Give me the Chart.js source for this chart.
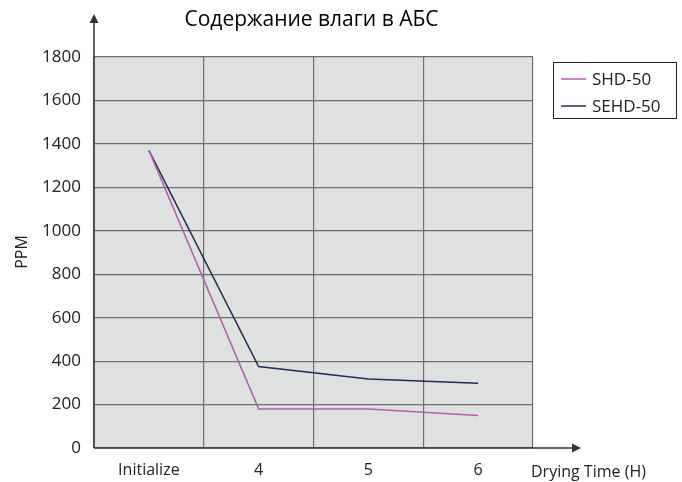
<!DOCTYPE html>
<html>
<head>
<meta charset="utf-8">
<script src="https://cdn.jsdelivr.net/npm/chart.js@4"></script>
<style>
  html, body { margin: 0; padding: 0; background: #fff; }
  #wrap { width: 682px; height: 482px; }
</style>
</head>
<body>
<div id="wrap"><canvas id="moisture"></canvas></div>
<script>
// chart data
const categories = ['Initialize', '4', '5', '6'];
const shdValues = [1370, 180, 180, 150];
const sehdValues = [1370, 375, 318, 298];
const yTicks = [0, 200, 400, 600, 800, 1000, 1200, 1400, 1600, 1800];
const titleText = 'Содержание влаги в АБС';
const xTitle = 'Drying Time (H)';
const yTitle = 'PPM';

const FONT = '"Open Sans", "DejaVu Sans", sans-serif';
const AXIS = '#333333';

// arrows, title, axis names and the boxed legend
const decor = {
  id: 'decor',
  afterDraw(chart) {
    const c = chart.ctx;
    const a = chart.chartArea;
    c.save();
    c.strokeStyle = AXIS;
    c.fillStyle = AXIS;
    c.lineWidth = 1.5;
    // y axis with arrow
    c.beginPath();
    c.moveTo(a.left, a.bottom);
    c.lineTo(a.left, 20);
    c.stroke();
    c.beginPath();
    c.moveTo(a.left, 14);
    c.lineTo(a.left - 4.5, 23);
    c.lineTo(a.left + 4.5, 23);
    c.closePath();
    c.fill();
    // x axis with arrow
    c.beginPath();
    c.moveTo(a.left, a.bottom);
    c.lineTo(575, a.bottom);
    c.stroke();
    c.beginPath();
    c.moveTo(581, a.bottom);
    c.lineTo(572, a.bottom - 4.5);
    c.lineTo(572, a.bottom + 4.5);
    c.closePath();
    c.fill();

    // title
    c.fillStyle = '#000';
    c.font = '21px ' + FONT;
    c.textAlign = 'center';
    c.textBaseline = 'middle';
    c.fillText(titleText, (a.left + a.right) / 2 - 2, 20);

    // axis names
    c.font = '16px ' + FONT;
    c.fillStyle = '#222';
    c.textAlign = 'left';
    c.fillText(xTitle, 531, 472);
    c.save();
    c.translate(22, 252);
    c.rotate(-Math.PI / 2);
    c.textAlign = 'center';
    c.fillText(yTitle, 0, 0);
    c.restore();

    // legend
    c.fillStyle = '#fff';
    c.fillRect(553, 62, 124, 57);
    c.strokeStyle = '#222';
    c.lineWidth = 1;
    c.strokeRect(553.5, 62.5, 123, 56);
    chart.data.datasets.forEach((ds, i) => {
      const y = 79 + i * 27;
      c.strokeStyle = ds.borderColor;
      c.lineWidth = 1.5;
      c.beginPath();
      c.moveTo(561, y);
      c.lineTo(586, y);
      c.stroke();
      c.fillStyle = '#222';
      c.font = '17px ' + FONT;
      c.textAlign = 'left';
      c.fillText(ds.label, 592, y + 1);
    });
    c.restore();
  }
};

// grey plot background
const plotBg = {
  id: 'plotBg',
  beforeDraw(chart) {
    const a = chart.chartArea;
    chart.ctx.save();
    chart.ctx.fillStyle = '#dfe0e0';
    chart.ctx.fillRect(a.left, a.top, a.right - a.left, a.bottom - a.top);
    chart.ctx.restore();
  }
};

new Chart(document.getElementById('moisture'), {
  type: 'line',
  data: {
    labels: categories,
    datasets: [
      {
        label: 'SHD-50',
        data: shdValues,
        borderColor: '#b35fac',
        borderWidth: 1.5,
        pointRadius: 0,
        tension: 0
      },
      {
        label: 'SEHD-50',
        data: sehdValues,
        borderColor: '#262a55',
        borderWidth: 1.5,
        pointRadius: 0,
        tension: 0
      }
    ]
  },
  options: {
    responsive: true,
    maintainAspectRatio: false,
    animation: false,
    layout: { padding: { top: 57, right: 149, left: 0, bottom: 0 } },
    plugins: {
      legend: { display: false },
      tooltip: { enabled: false }
    },
    scales: {
      x: {
        offset: true,
        grid: { offset: true, color: '#6e6e6e', lineWidth: 1.2, drawTicks: false },
        border: { display: false },
        ticks: { color: '#222', font: { family: FONT, size: 16 }, padding: 13 },
        afterFit(scale) { scale.height = 34; }
      },
      y: {
        min: 0,
        max: 1800,
        grid: { color: '#6e6e6e', lineWidth: 1.2, drawTicks: false },
        border: { display: false },
        afterBuildTicks(scale) { scale.ticks = yTicks.map(v => ({ value: v })); },
        ticks: {
          color: '#222',
          font: { family: FONT, size: 17 },
          padding: 13,
          callback: v => String(v)
        },
        afterFit(scale) { scale.width = 94; }
      }
    }
  },
  plugins: [plotBg, decor]
});
</script>
</body>
</html>
